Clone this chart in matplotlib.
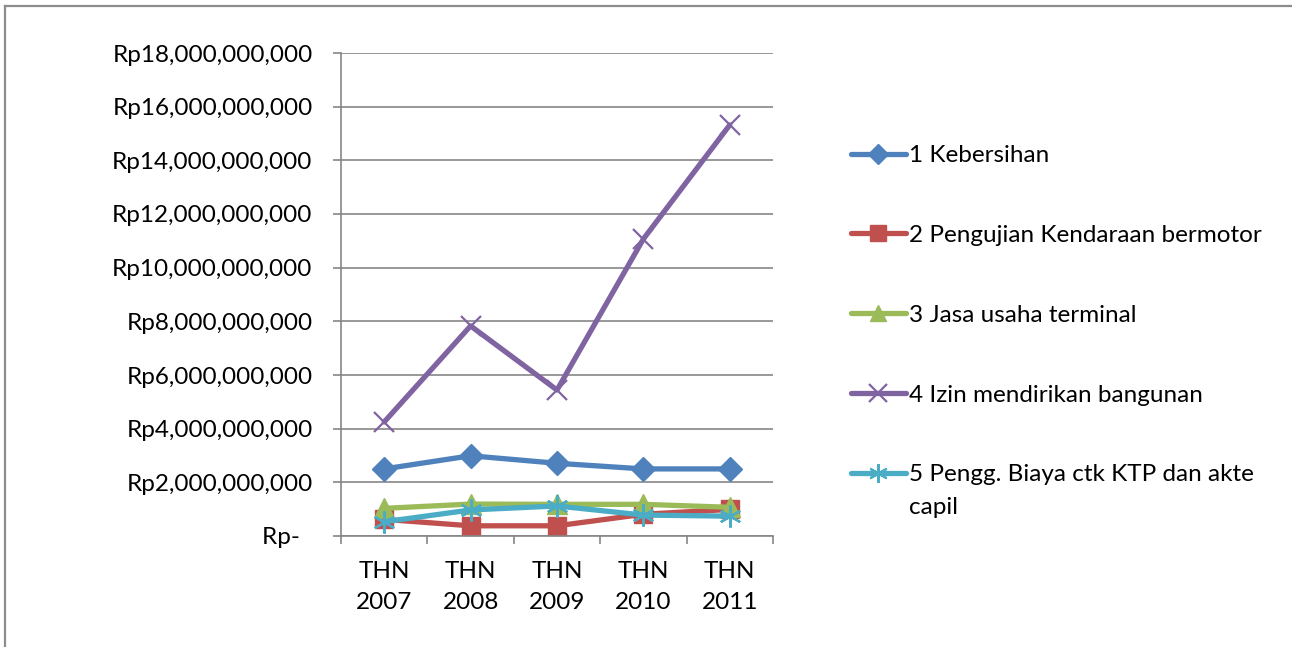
import matplotlib
matplotlib.use("Agg")
import matplotlib.pyplot as plt
from matplotlib.lines import Line2D
from matplotlib.ticker import FixedLocator, FuncFormatter

plt.rcParams["font.family"] = ["Lato", "DejaVu Sans"]

years = ["THN\n2007", "THN\n2008", "THN\n2009", "THN\n2010", "THN\n2011"]

kebersihan = [2.50e9, 2.99e9, 2.71e9, 2.50e9, 2.50e9]
pengujian_kendaraan = [0.62e9, 0.38e9, 0.38e9, 0.81e9, 0.99e9]
jasa_terminal = [1.03e9, 1.19e9, 1.18e9, 1.18e9, 1.07e9]
izin_bangunan = [4.25e9, 7.83e9, 5.44e9, 11.07e9, 15.32e9]
ktp_akte = [0.53e9, 0.97e9, 1.12e9, 0.78e9, 0.74e9]

series_labels = [
    "1 Kebersihan",
    "2 Pengujian Kendaraan bermotor",
    "3 Jasa usaha terminal",
    "4 Izin mendirikan bangunan",
    "5 Pengg. Biaya ctk KTP dan akte",
]
label_tail = "capil"

FS = 17.5
W, H = 1292, 647
fig = plt.figure(figsize=(W / 100, H / 100), dpi=100)
ax = fig.add_axes([341 / W, 1 - 536 / H, (773 - 341) / W, (536 - 53) / H])

x = list(range(len(years)))
styles = [
    dict(color="#4F81BD", marker="D", ms=12, mec="#4F81BD"),
    dict(color="#C0504D", marker="s", ms=13, mec="#C0504D"),
    dict(color="#9BBB59", marker="^", ms=14, mec="#9BBB59"),
    dict(color="#8064A2", marker="x", ms=15, mew=1.6),
    dict(color="#4BACC6", marker=(6, 2, 0), ms=16, mew=1.6),
]
data = [kebersihan, pengujian_kendaraan, jasa_terminal, izin_bangunan, ktp_akte]

handles = []
for vals, st, lab in zip(data, styles, series_labels):
    (ln,) = ax.plot(x, vals, lw=3.8, solid_joinstyle="round",
                    solid_capstyle="round", label=lab, **st)
    handles.append(ln)

grid_col = "#868686"
ax.set_xlim(-0.5, len(years) - 0.5)
ax.set_ylim(0, 18e9)
ax.yaxis.set_major_locator(FixedLocator([i * 2e9 for i in range(10)]))


def rupiah(v, pos):
    if v == 0:
        return "Rp-  "
    return "Rp{:,.0f}".format(v)


ax.yaxis.set_major_formatter(FuncFormatter(rupiah))
ax.grid(axis="y", color=grid_col, lw=1.2)
ax.set_axisbelow(True)

ax.set_xticks(x)
ax.set_xticklabels(years, linespacing=1.6)
ax.set_xticks([i - 0.5 for i in range(len(years) + 1)], minor=True)
ax.tick_params(axis="x", which="major", length=0, pad=18, labelsize=FS)
ax.tick_params(axis="x", which="minor", length=6, width=1.2, color=grid_col,
               direction="out")
ax.tick_params(axis="y", length=6, width=1.2, color=grid_col, pad=14.5,
               labelsize=FS)

for side in ("top", "right"):
    ax.spines[side].set_visible(False)
for side in ("left", "bottom"):
    ax.spines[side].set_color(grid_col)
    ax.spines[side].set_linewidth(1.2)

leg = fig.legend(handles=handles, loc="upper left",
                 bbox_to_anchor=(851 / W, 1 - 145 / H), frameon=False,
                 fontsize=FS, handlelength=2.25, handletextpad=0.15,
                 labelspacing=2.42, borderpad=0, borderaxespad=0,
                 markerscale=0.85)

# outer chart frame (left and top edges)
frame_kw = dict(color="#8c8c8c", lw=1.6, transform=fig.transFigure)
fig.add_artist(Line2D([5 / W, 5 / W], [0, 1 - 6 / H], **frame_kw))
fig.add_artist(Line2D([5 / W, 1], [1 - 6 / H, 1 - 6 / H], **frame_kw))

# second line of the last legend entry
fig.canvas.draw()
last = leg.get_texts()[-1]
bb = last.get_window_extent()
fig.text(bb.x0 / W, (bb.y0 - 33) / H, label_tail, fontsize=FS,
         ha="left", va="bottom")

fig.savefig("out.png", dpi=100)
